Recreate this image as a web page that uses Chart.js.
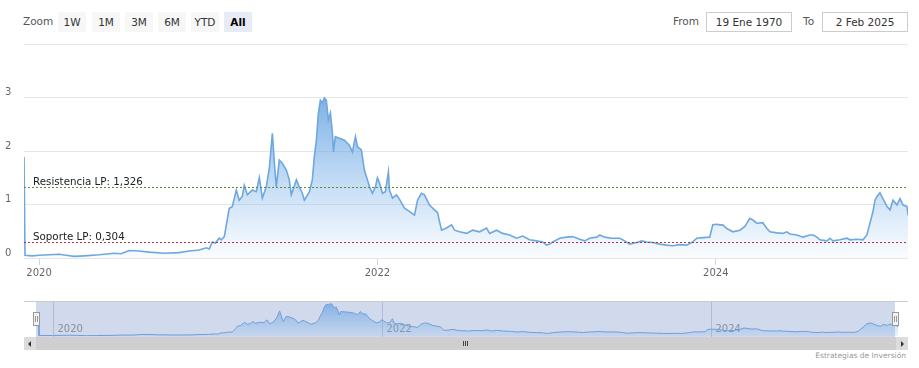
<!DOCTYPE html>
<html>
<head>
<meta charset="utf-8">
<script src="https://cdn.jsdelivr.net/npm/chart.js@4.4.0/dist/chart.umd.min.js"></script>
<style>
html,body{margin:0;padding:0;background:#fff;width:919px;height:368px;overflow:hidden;font-family:"DejaVu Sans",sans-serif;}
.abs{position:absolute;}
.lbl{position:absolute;font-size:10.5px;color:#555;line-height:20px;top:11px;}
.btn{position:absolute;top:12px;height:20px;width:28px;background:#f7f7f7;text-align:center;line-height:20px;font-size:10.5px;color:#333;}
.btn.sel{background:#e6ebf5;color:#000;font-weight:bold;}
.inp{position:absolute;top:12px;height:18px;border:1px solid #cccccc;text-align:center;line-height:18px;font-size:10.5px;color:#333;background:#fff;}
#mainWrap{position:absolute;left:0;top:0;width:919px;height:290px;}
#navWrap{position:absolute;left:24px;top:301px;width:884px;height:36px;}
.sbBtn{position:absolute;top:337px;width:12px;height:13px;background:#dcdcdc;}
.tri{position:absolute;top:4px;width:0;height:0;border-top:3px solid transparent;border-bottom:3px solid transparent;}
.grip{position:absolute;top:341px;width:1px;height:5px;background:#444;}
#credits{position:absolute;right:13px;top:350px;font-size:7.5px;color:#999;line-height:11px;}
</style>
</head>
<body>
<div class="lbl" style="left:23px;">Zoom</div>
<div class="btn" style="left:58px;">1W</div>
<div class="btn" style="left:92px;">1M</div>
<div class="btn" style="left:125px;">3M</div>
<div class="btn" style="left:158px;">6M</div>
<div class="btn" style="left:191px;">YTD</div>
<div class="btn sel" style="left:224px;">All</div>
<div class="lbl" style="left:673px;">From</div>
<div class="inp" style="left:706px;width:84px;">19 Ene 1970</div>
<div class="lbl" style="left:803px;">To</div>
<div class="inp" style="left:822px;width:84px;">2 Feb 2025</div>

<div id="mainWrap"><canvas id="main"></canvas></div>
<div id="navWrap"><canvas id="nav"></canvas></div>

<div class="abs" style="left:24px;top:337px;width:884px;height:13px;background:#f2f2f2;"></div>
<div class="abs" style="left:36px;top:337px;width:860px;height:13px;background:#cfcfcf;"></div>
<div class="sbBtn" style="left:24px;"><div class="tri" style="left:4px;border-right:3px solid #333;"></div></div>
<div class="sbBtn" style="left:896px;"><div class="tri" style="left:5px;border-left:3px solid #333;"></div></div>
<div class="grip" style="left:463px;"></div>
<div class="grip" style="left:465px;"></div>
<div class="grip" style="left:467px;"></div>
<div id="credits">Estrategias de Inversión</div>

<script>
// ---- Data ----
const years = [
  2019.911, 2019.917, 2019.959, 2020.000, 2020.059, 2020.118, 2020.160, 2020.207, 2020.266, 2020.355,
  2020.444, 2020.485, 2020.533, 2020.592, 2020.651, 2020.740, 2020.828, 2020.888, 2020.947, 2020.988,
  2021.006, 2021.024, 2021.041, 2021.065, 2021.077, 2021.095, 2021.112, 2021.124, 2021.142, 2021.166,
  2021.183, 2021.201, 2021.213, 2021.231, 2021.260, 2021.284, 2021.302, 2021.320, 2021.343, 2021.361,
  2021.379, 2021.391, 2021.402, 2021.420, 2021.438, 2021.462, 2021.479, 2021.491, 2021.521, 2021.538,
  2021.556, 2021.568, 2021.598, 2021.615, 2021.627, 2021.639, 2021.651, 2021.663, 2021.675, 2021.686,
  2021.698, 2021.710, 2021.722, 2021.734, 2021.740, 2021.751, 2021.775, 2021.805, 2021.834, 2021.852,
  2021.870, 2021.882, 2021.905, 2021.923, 2021.941, 2021.953, 2021.970, 2021.988, 2022.000, 2022.012,
  2022.030, 2022.047, 2022.065, 2022.071, 2022.089, 2022.112, 2022.130, 2022.160, 2022.189, 2022.219,
  2022.237, 2022.260, 2022.278, 2022.308, 2022.337, 2022.355, 2022.367, 2022.379, 2022.408, 2022.438,
  2022.456, 2022.485, 2022.527, 2022.562, 2022.604, 2022.645, 2022.663, 2022.704, 2022.740, 2022.781,
  2022.822, 2022.858, 2022.899, 2022.941, 2022.976, 2023.000, 2023.018, 2023.036, 2023.077, 2023.118,
  2023.154, 2023.195, 2023.225, 2023.254, 2023.296, 2023.314, 2023.343, 2023.385, 2023.432, 2023.462,
  2023.491, 2023.533, 2023.562, 2023.592, 2023.627, 2023.669, 2023.710, 2023.746, 2023.787, 2023.828,
  2023.864, 2023.888, 2023.923, 2023.964, 2023.982, 2024.006, 2024.024, 2024.041, 2024.065, 2024.101,
  2024.142, 2024.172, 2024.201, 2024.219, 2024.243, 2024.278, 2024.302, 2024.320, 2024.361, 2024.396,
  2024.420, 2024.438, 2024.479, 2024.515, 2024.556, 2024.574, 2024.598, 2024.615, 2024.657, 2024.675,
  2024.692, 2024.734, 2024.775, 2024.793, 2024.834, 2024.870, 2024.893, 2024.911, 2024.929, 2024.941,
  2024.953, 2024.970, 2024.988, 2025.012, 2025.030, 2025.047, 2025.071, 2025.089, 2025.107, 2025.130,
  2025.136
];
const price = [
  1.89, 0.05, 0.04, 0.05, 0.06, 0.07, 0.05, 0.03, 0.04, 0.06,
  0.09, 0.08, 0.14, 0.13, 0.11, 0.09, 0.10, 0.13, 0.15, 0.19,
  0.17, 0.30, 0.28, 0.37, 0.34, 0.40, 0.71, 0.93, 0.96, 1.27,
  1.08, 1.15, 1.36, 1.18, 1.27, 1.24, 1.50, 1.12, 1.33, 1.68,
  2.33, 1.77, 1.33, 1.83, 1.77, 1.64, 1.46, 1.18, 1.46, 1.33,
  1.21, 1.08, 1.24, 1.46, 1.89, 2.20, 2.71, 2.95, 2.90, 2.99,
  2.95, 2.58, 2.71, 2.33, 1.98, 2.27, 2.24, 2.20, 2.11, 1.98,
  2.27, 2.08, 2.02, 1.64, 1.46, 1.33, 1.21, 1.33, 1.50, 1.40,
  1.21, 1.24, 1.61, 1.27, 1.12, 1.18, 1.10, 0.93, 0.87, 0.80,
  1.08, 1.21, 1.18, 0.99, 0.90, 0.85, 0.68, 0.52, 0.56, 0.62,
  0.52, 0.49, 0.46, 0.52, 0.49, 0.56, 0.46, 0.52, 0.46, 0.43,
  0.37, 0.41, 0.34, 0.32, 0.30, 0.24, 0.26, 0.30, 0.37, 0.39,
  0.40, 0.35, 0.32, 0.37, 0.39, 0.43, 0.39, 0.37, 0.37, 0.32,
  0.26, 0.29, 0.32, 0.30, 0.29, 0.26, 0.24, 0.23, 0.25, 0.24,
  0.30, 0.37, 0.38, 0.39, 0.62, 0.63, 0.62, 0.62, 0.55, 0.49,
  0.52, 0.59, 0.74, 0.71, 0.65, 0.66, 0.55, 0.49, 0.47, 0.46,
  0.49, 0.45, 0.43, 0.39, 0.43, 0.43, 0.39, 0.34, 0.32, 0.37,
  0.32, 0.34, 0.37, 0.34, 0.35, 0.34, 0.43, 0.65, 0.87, 1.08,
  1.15, 1.22, 1.11, 0.96, 0.90, 1.08, 0.99, 1.11, 0.99, 0.96,
  0.80
];
const xTickYears = [2020, 2022, 2024];
const yTickValues = [0, 1, 2, 3, 4];
const resistenciaLP = 1.326;
const soporteLP = 0.304;

// ---- Chart ----
const FONT = '"DejaVu Sans", sans-serif';
const points = years.map((t, i) => ({ x: t, y: price[i] }));
const xMin = years[0], xMax = years[years.length - 1];
const levels = [
  { value: resistenciaLP, label: 'Resistencia LP: ' + String(resistenciaLP).replace('.', ','), color: 'rgb(95,140,60)' },
  { value: soporteLP, label: 'Soporte LP: ' + String(soporteLP).replace('.', ','), color: 'rgb(185,45,70)' }
];

function areaGradient(ctx, topA, botA) {
  const chart = ctx.chart;
  const a = chart.chartArea;
  if (!a) return 'rgba(124,181,236,0.3)';
  const ys = chart.scales.y;
  const top = ys.getPixelForValue(Math.max(...price));
  const g = chart.ctx.createLinearGradient(0, top, 0, a.bottom);
  g.addColorStop(0, 'rgba(105,163,226,' + topA + ')');
  g.addColorStop(1, 'rgba(124,181,236,' + botA + ')');
  return g;
}

const plotLinesPlugin = {
  id: 'plotLines',
  afterDatasetsDraw(chart) {
    const { ctx, chartArea: a, scales: { y } } = chart;
    levels.forEach(l => {
      const py = Math.round(y.getPixelForValue(l.value)) + 0.5;
      ctx.save();
      ctx.strokeStyle = l.color;
      ctx.lineWidth = 1;
      ctx.setLineDash([2, 2]);
      ctx.beginPath();
      ctx.moveTo(a.left, py);
      ctx.lineTo(a.right, py);
      ctx.stroke();
      ctx.setLineDash([]);
      ctx.fillStyle = '#222';
      ctx.font = '10.3px ' + FONT;
      ctx.textBaseline = 'alphabetic';
      ctx.fillText(l.label, a.left + 9, py - 3);
      ctx.restore();
    });
  }
};

new Chart(document.getElementById('main'), {
  type: 'line',
  data: {
    datasets: [{
      data: points,
      borderColor: '#6ea8de',
      borderWidth: 1.6,
      pointRadius: 0,
      tension: 0,
      fill: 'origin',
      backgroundColor: c => areaGradient(c, 0.85, 0.04)
    }]
  },
  options: {
    responsive: true,
    maintainAspectRatio: false,
    animation: false,
    layout: { padding: { left: 5, right: 11, top: 44, bottom: 0 } },
    plugins: { legend: { display: false }, tooltip: { enabled: false } },
    scales: {
      x: {
        type: 'linear', min: xMin, max: xMax,
        afterBuildTicks: s => { s.ticks = xTickYears.map(v => ({ value: v })); },
        afterFit: s => { s.height = 32; },
        grid: { drawOnChartArea: false, drawTicks: true, tickLength: 7, color: '#ccd6eb' },
        border: { display: false },
        ticks: { color: '#666', font: { family: FONT, size: 10 }, padding: 2, maxRotation: 0, autoSkip: false, callback: v => String(v) }
      },
      y: {
        min: 0, max: 4,
        afterBuildTicks: s => { s.ticks = yTickValues.map(v => ({ value: v })); },
        afterFit: s => { s.width = 19; },
        grid: { color: '#e6e6e6', drawTicks: false },
        border: { display: false },
        ticks: { crossAlign: 'far', labelOffset: -5, padding: 0, color: '#666', font: { family: FONT, size: 10 }, callback: v => (v === 4 ? '' : String(v)) }
      }
    }
  },
  plugins: [plotLinesPlugin]
});

// ---- Navigator ----
const navPlugin = {
  id: 'navDeco',
  beforeDatasetsDraw(chart) {
    const { ctx, scales: { x } } = chart;
    const W = chart.width, H = chart.height;
    const m0 = x.getPixelForValue(xMin) - 2, m1 = x.getPixelForValue(xMax) - 3;
    ctx.save();
    ctx.fillStyle = 'rgba(102,133,194,0.3)';
    ctx.fillRect(m0, 0, m1 - m0, H);
    xTickYears.forEach(v => {
      const px = Math.round(x.getPixelForValue(v)) + 0.5;
      ctx.strokeStyle = 'rgba(140,150,175,0.45)';
      ctx.lineWidth = 1;
      ctx.beginPath(); ctx.moveTo(px, 0); ctx.lineTo(px, H); ctx.stroke();
      ctx.fillStyle = '#8a8f99';
      ctx.font = '10px ' + FONT;
      ctx.textBaseline = 'middle';
      ctx.fillText(String(v), px + 4, 28);
    });
    ctx.strokeStyle = '#cccccc';
    ctx.beginPath(); ctx.moveTo(0, 0.5); ctx.lineTo(W, 0.5); ctx.stroke();
    ctx.restore();
  },
  afterDatasetsDraw(chart) {
    const { ctx, scales: { x } } = chart;
    const m0 = x.getPixelForValue(xMin) - 2, m1 = x.getPixelForValue(xMax) - 3;
    ctx.save();
    [m0, m1].forEach(px => {
      const l = Math.round(px - 3) + 0.5;
      ctx.fillStyle = '#f2f2f2';
      ctx.strokeStyle = '#999';
      ctx.lineWidth = 1;
      ctx.fillRect(l, 11.5, 6, 13);
      ctx.strokeRect(l, 11.5, 6, 13);
      ctx.beginPath();
      ctx.moveTo(l + 2, 15); ctx.lineTo(l + 2, 21);
      ctx.moveTo(l + 4, 15); ctx.lineTo(l + 4, 21);
      ctx.stroke();
    });
    ctx.restore();
  }
};

new Chart(document.getElementById('nav'), {
  type: 'line',
  data: {
    datasets: [{
      data: points,
      borderColor: '#6f9fd6',
      borderWidth: 1,
      pointRadius: 0,
      tension: 0,
      fill: 'origin',
      backgroundColor: c => {
        const a = c.chart.chartArea;
        if (!a) return 'rgba(124,181,236,0.3)';
        const g = c.chart.ctx.createLinearGradient(0, a.top, 0, a.bottom);
        g.addColorStop(0, 'rgba(95,155,225,0.75)');
        g.addColorStop(1, 'rgba(124,181,236,0.15)');
        return g;
      }
    }]
  },
  options: {
    responsive: true,
    maintainAspectRatio: false,
    animation: false,
    layout: { padding: { left: 14, right: 10, top: 0, bottom: 1 } },
    plugins: { legend: { display: false }, tooltip: { enabled: false } },
    scales: {
      x: { type: 'linear', display: false, min: xMin, max: xMax },
      y: { display: false, min: 0, max: 3.25 }
    }
  },
  plugins: [navPlugin]
});
</script>
</body>
</html>
